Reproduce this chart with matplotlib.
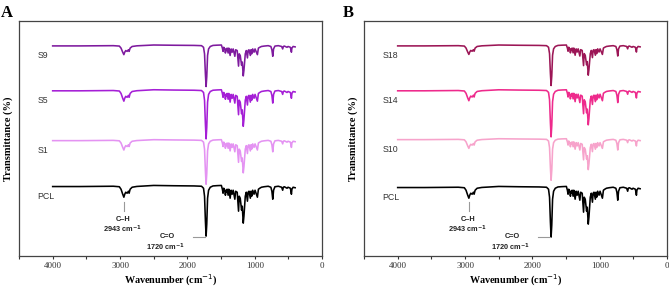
import matplotlib
matplotlib.use("Agg")
import matplotlib.pyplot as plt
from matplotlib.ticker import MultipleLocator

plt.rcParams["mathtext.fontset"] = "dejavusans"

# PCL spectrum: wavenumber (cm-1) and dip depth below baseline
pcl_wn = [4000, 3600, 3100, 3010, 2985, 2960, 2943, 2930, 2915, 2895, 2875, 2865, 2850, 2820,
          2750, 2500, 2200, 1900, 1790, 1760, 1745, 1732, 1722, 1712, 1700, 1685, 1660, 1620,
          1560, 1495, 1480, 1470, 1460, 1445, 1435, 1425, 1418, 1410, 1395, 1385, 1365, 1350,
          1335, 1320, 1295, 1283, 1260, 1240, 1230, 1215, 1195, 1185, 1170, 1160, 1150, 1140,
          1125, 1108, 1098, 1085, 1065, 1055, 1045, 1030, 1010, 995, 980, 960, 945, 925, 900,
          860, 800, 760, 745, 732, 720, 700, 650, 600, 585, 575, 560, 520, 505, 470, 455, 448,
          430, 400]
pcl_depth = [0.3, 0.3, 0.0, 0.5, 3, 8, 11, 8, 6, 7, 5, 7, 3, 1,
             0.2, -0.8, -0.5, -0.3, 0, 2, 10, 35, 50, 38, 12, 4, 1, -0.3,
             -0.6, -0.8, 3, 7, 2, 4, 9, 4, 6, 3, 9, 3, 12, 4,
             8, 4, 13, 5, 6, 25, 10, 12, 24, 20, 37, 30, 20, 10,
             6, 15, 6, 5, 12, 5, 10, 4, 8, 4, 7, 11, 3, 2, 1,
             0.5, 0, 1, 5, 13, 4, 0.5, 0, 1, 4, 1, 0.5, 2, 1, 2, 8, 3,
             1, 1.5]

# series: labels, baseline level, relative band depth
a_labels = ["PCL", "S1", "S5", "S9"]
a_base = [70, 116, 166, 211]
a_scale = [1.0, 0.88, 0.97, 0.82]
a_colors = ["black", "#e493f2", "#a51fd6", "#7e1a9e"]

b_labels = ["PCL", "S10", "S14", "S18"]
b_base = [69, 117, 166, 211]
b_scale = [1.0, 0.82, 0.93, 0.8]
b_colors = ["black", "#f7a3cb", "#ee2a8c", "#9c1656"]

serif = ["Liberation Serif", "DejaVu Serif"]
sans = ["Liberation Sans", "DejaVu Sans"]

fig = plt.figure(figsize=(6.69, 2.88), dpi=100)
ax_a = fig.add_axes([0.0284, 0.111, 0.453, 0.817])
ax_b = fig.add_axes([0.5441, 0.111, 0.453, 0.817])


def draw_panel(ax, labels, bases, scales, colors, letter, letter_x):
    for lab, base, sc, col in zip(labels, bases, scales, colors):
        y = [base - d * sc for d in pcl_depth]
        ax.plot(pcl_wn, y, color=col, lw=1.15, solid_joinstyle="round")
        ax.text(4230, base - 10, lab, fontsize=6.3, color="#333333",
                family=sans, ha="left", va="center")

    # C-H marker
    ax.plot([2943, 2943], [45, 54], color="#999999", lw=0.8)
    ax.text(2950, 37, "C\u2013H", fontsize=5.3, fontweight="bold", family=sans,
            ha="center", va="center", color="#222222")
    ax.text(2960, 27, "2943 cm$^{\\mathbf{-1}}$", fontsize=5.3, fontweight="bold",
            family=sans, ha="center", va="center", color="#222222")
    # C=O marker
    ax.plot([1915, 1735], [19.5, 19.5], color="#999999", lw=0.8)
    ax.text(2300, 20, "C=O", fontsize=5.3, fontweight="bold", family=sans,
            ha="center", va="center", color="#222222")
    ax.text(2330, 9, "1720 cm$^{\\mathbf{-1}}$", fontsize=5.3, fontweight="bold",
            family=sans, ha="center", va="center", color="#222222")

    ax.set_xlim(4500, 0)
    ax.set_ylim(0, 236)
    ax.set_yticks([])
    ax.xaxis.set_major_locator(MultipleLocator(1000))
    ax.xaxis.set_minor_locator(MultipleLocator(500))
    ax.tick_params(axis="x", which="major", length=2.5, width=0.8, labelsize=6.5,
                   pad=1.5, colors="#333333")
    ax.tick_params(axis="x", which="minor", length=2, width=0.8, colors="#333333")
    for lbl in ax.get_xticklabels():
        lbl.set_family(serif)
    for sp in ax.spines.values():
        sp.set_color("#444444")
        sp.set_linewidth(0.9)
    ax.set_xlabel("Wavenumber (cm$^{-1}$)", fontsize=7.3, fontweight="bold",
                  family=serif, va="center")
    ax.xaxis.set_label_coords(0.5, -0.105)
    ax.set_ylabel("Transmittance (%)", fontsize=7.5, fontweight="bold",
                  family=serif, labelpad=4)
    fig.text(letter_x, 0.955, letter, fontsize=12, fontweight="bold", family=serif,
             ha="left", va="center")


draw_panel(ax_a, a_labels, a_base, a_scale, a_colors, "A", 0.002)
draw_panel(ax_b, b_labels, b_base, b_scale, b_colors, "B", 0.512)

fig.savefig("out.png", dpi=100)
